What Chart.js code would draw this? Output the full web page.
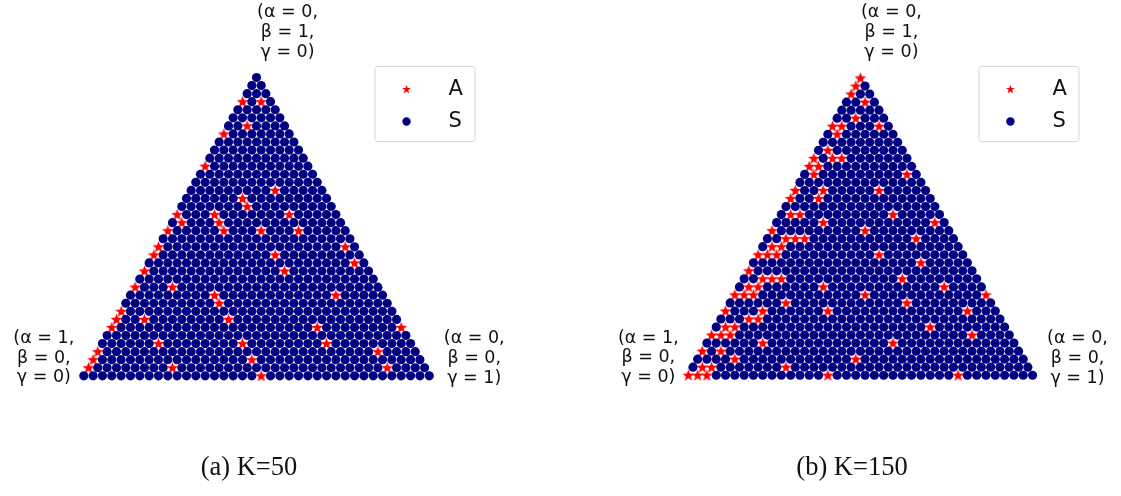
<!DOCTYPE html>
<html>
<head>
<meta charset="utf-8">
<script src="https://cdn.jsdelivr.net/npm/chart.js@4.4.1/dist/chart.umd.min.js"></script>
<style>
  body { margin: 0; background: #fff; }
  #wrap { position: relative; width: 1121px; height: 496px; overflow: hidden; }
  canvas { position: absolute; top: 0; }
  .cap { position: absolute; top: 451px; width: 300px; text-align: center;
         font-family: "Palatino Linotype", "Book Antiqua", "Liberation Serif", serif; font-size: 26.5px; color: #111; }
</style>
</head>
<body>
<div id="wrap">
  <canvas id="chartK50" width="560" height="496" style="left:0px"></canvas>
  <canvas id="chartK150" width="561" height="496" style="left:560px"></canvas>
  <div class="cap" id="cap0" style="left:99px"></div>
  <div class="cap" id="cap1" style="left:702px"></div>
</div>
<script>
// grid resolution: 37 steps per side -> 38 points on the bottom row
const gridSteps = 37;
const seriesNames = ['A', 'S'];
const captions = ['(a) K=50', '(b) K=150'];

const topLabel = ['(α = 0,', 'β = 1,', 'γ = 0)'];
const leftLabel = ['(α = 1,', 'β = 0,', 'γ = 0)'];
const rightLabel = ['(α = 0,', 'β = 0,', 'γ = 1)'];

// A points as [row from bottom, position in row]
const aPointsK50 = [
  [34,0],[34,2],[31,2],[30,0],[26,0],[23,9],[22,6],[21,7],[20,0],[20,4],[20,12],
  [19,1],[19,5],[18,0],[18,6],[18,10],[18,14],[16,0],[16,20],[15,0],[15,13],
  [14,22],[13,0],[13,15],[11,0],[11,4],[10,9],[10,22],[9,10],[8,0],[7,0],[7,3],
  [7,12],[6,0],[6,22],[6,31],[4,6],[4,15],[4,24],[3,0],[3,30],[2,0],[2,17],
  [1,0],[1,9],[1,32],[0,19]
];
const aPointsK150 = [
  [37,0],[36,0],[35,0],[34,2],[32,2],[31,0],[31,1],[31,5],[30,1],[28,1],[27,0],
  [27,2],[27,3],[26,0],[26,1],[25,1],[25,11],[23,0],[23,3],[23,9],[22,0],[22,3],
  [20,1],[20,2],[20,12],[19,5],[19,17],[18,0],[18,10],[17,2],[17,3],[17,4],[17,16],
  [16,1],[16,2],[15,0],[15,1],[15,2],[15,13],[14,18],[13,0],[12,2],[12,3],[12,4],
  [12,17],[11,1],[11,2],[11,9],[11,22],[10,0],[10,1],[10,2],[10,14],[10,27],[9,6],
  [9,19],[8,0],[8,4],[8,11],[8,26],[7,3],[7,4],[6,1],[6,2],[6,23],[5,0],[5,1],
  [5,2],[5,28],[4,6],[4,20],[3,0],[3,2],[2,4],[2,17],[1,1],[1,2],[1,10],[0,0],
  [0,1],[0,2],[0,15],[0,29]
];

const H3 = Math.sqrt(3) / 2;

function starPath(ctx, x, y, ro, ri) {
  ctx.beginPath();
  for (let i = 0; i < 10; i++) {
    const rad = i % 2 === 0 ? ro : ri;
    const a = -Math.PI / 2 + i * Math.PI / 5;
    const px = x + rad * Math.cos(a), py = y + rad * Math.sin(a);
    if (i === 0) ctx.moveTo(px, py); else ctx.lineTo(px, py);
  }
  ctx.closePath();
}

// filled star marker used as point style
const starImg = document.createElement('canvas');
starImg.width = 13; starImg.height = 13;
(function () {
  const c = starImg.getContext('2d');
  c.fillStyle = '#ff0000';
  starPath(c, 6.5, 6.9, 6.2, 2.6);
  c.fill();
})();

function buildPoints(aPoints) {
  const isA = new Set(aPoints.map(p => p[0] + ',' + p[1]));
  const a = [], s = [];
  for (let r = 0; r <= gridSteps; r++) {
    for (let c = 0; c <= gridSteps - r; c++) {
      const pt = { x: c + r / 2, y: r * H3 };
      (isA.has(r + ',' + c) ? a : s).push(pt);
    }
  }
  return { a, s };
}

const ternaryDeco = {
  id: 'ternaryDeco',
  afterDraw(chart) {
    const ctx = chart.ctx;
    const xs = chart.scales.x, ys = chart.scales.y;
    const topX = xs.getPixelForValue(gridSteps / 2);
    const leftX = xs.getPixelForValue(0);
    const rightX = xs.getPixelForValue(gridSteps);
    const baseY = ys.getPixelForValue(0);

    ctx.save();
    ctx.fillStyle = '#111';
    ctx.font = '17.5px "DejaVu Sans"';
    ctx.textAlign = 'center';
    ctx.textBaseline = 'middle';
    topLabel.forEach((t, i) => ctx.fillText(t, topX + 31, 12 + i * 20));
    leftLabel.forEach((t, i) => ctx.fillText(t, leftX - 40, baseY - 37 + i * 19.5));
    rightLabel.forEach((t, i) => ctx.fillText(t, rightX + 45, baseY - 37 + i * 20));

    // legend box
    const lx = topX + 118.5, ly = 66.5, lw = 100, lh = 75;
    ctx.beginPath();
    ctx.roundRect(lx, ly, lw, lh, 3);
    ctx.fillStyle = 'rgba(255,255,255,0.8)';
    ctx.fill();
    ctx.strokeStyle = '#d6d6d6';
    ctx.lineWidth = 1;
    ctx.stroke();

    ctx.fillStyle = '#ff0000';
    starPath(ctx, lx + 31.5, ly + 23, 4.6, 1.9);
    ctx.fill();
    ctx.fillStyle = '#000080';
    ctx.beginPath();
    ctx.arc(lx + 31.5, ly + 55, 4.2, 0, Math.PI * 2);
    ctx.fill();

    ctx.fillStyle = '#111';
    ctx.font = '21px "DejaVu Sans"';
    ctx.textAlign = 'left';
    ctx.fillText(seriesNames[0], lx + 73.5, ly + 23);
    ctx.fillText(seriesNames[1], lx + 73.5, ly + 55);
    ctx.restore();
  }
};

function makeTernary(id, aPoints, x0, y0, step) {
  const canvas = document.getElementById(id);
  const W = canvas.width, H = canvas.height;
  const pts = buildPoints(aPoints);
  return new Chart(canvas.getContext('2d'), {
    type: 'scatter',
    data: {
      datasets: [
        { label: seriesNames[1], data: pts.s, pointStyle: 'circle', pointRadius: 4.6,
          backgroundColor: '#000080', borderWidth: 0 },
        { label: seriesNames[0], data: pts.a, pointStyle: starImg, pointRadius: 6,
          backgroundColor: '#ff0000', borderWidth: 0 }
      ]
    },
    options: {
      responsive: false,
      animation: false,
      layout: { padding: 0 },
      scales: {
        x: { type: 'linear', display: false, min: -x0 / step, max: (W - x0) / step },
        y: { type: 'linear', display: false, min: -(H - y0) / step, max: y0 / step }
      },
      plugins: { legend: { display: false }, tooltip: { enabled: false } }
    },
    plugins: [ternaryDeco]
  });
}

makeTernary('chartK50', aPointsK50, 79.5, 379, 353 / gridSteps);
makeTernary('chartK150', aPointsK150, 125, 378.4, 351.7 / gridSteps);

document.getElementById('cap0').textContent = captions[0];
document.getElementById('cap1').textContent = captions[1];
</script>
</body>
</html>
